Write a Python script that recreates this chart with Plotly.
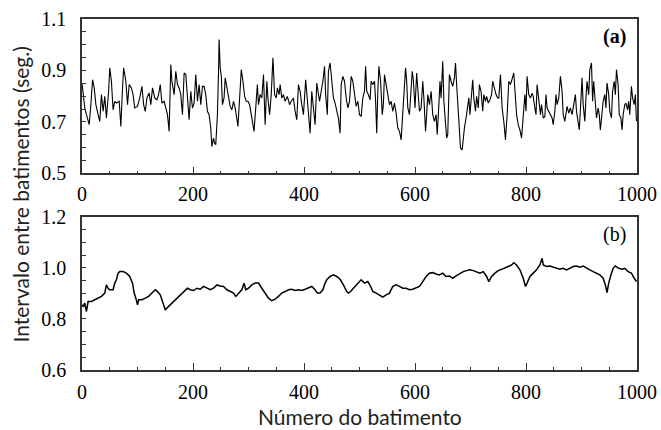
import plotly.graph_objects as go

# ---- Panel (a): beat-to-beat intervals (seconds) ----
beats_a = [0, 2, 5, 8, 13, 16, 19, 22, 25, 29, 32, 35, 38, 41, 44, 48, 50, 53, 56, 59,
           62, 67, 70, 73, 75, 79, 82, 85, 89, 92, 95, 100, 104, 108, 111, 114, 117, 121, 124, 127,
           131, 135, 138, 141, 144, 148, 151, 154, 157, 160, 162, 166, 169, 172, 175, 178, 181, 184, 187, 190,
           193, 196, 199, 202, 205, 208, 211, 214, 217, 220, 223, 226, 229, 232, 234, 237, 239, 241, 244, 246,
           247, 249, 251, 253, 256, 258, 261, 264, 267, 270, 273, 276, 279, 281, 284, 287, 290, 293, 296, 299,
           302, 305, 307, 310, 313, 316, 318, 321, 324, 327, 330, 333, 335, 338, 341, 344, 347, 350, 352, 355,
           357, 360, 363, 366, 370, 374, 377, 381, 384, 387, 390, 393, 396, 399, 403, 406, 409, 411, 414, 417,
           420, 423, 425, 428, 431, 434, 437, 439, 442, 444, 447, 450, 453, 456, 460, 462, 465, 467, 470, 473,
           476, 479, 482, 485, 488, 491, 494, 497, 500, 503, 506, 509, 511, 513, 516, 519, 521, 524, 527, 529,
           531, 533, 535, 538, 541, 543, 545, 548, 551, 554, 557, 560, 563, 566, 569, 572, 575, 578, 580, 583,
           585, 587, 590, 593, 595, 597, 600, 603, 605, 608, 611, 614, 616, 619, 621, 623, 626, 629, 632, 635,
           638, 640, 643, 645, 647, 650, 652, 655, 657, 659, 662, 665, 668, 671, 673, 675, 677, 680, 682, 685,
           687, 689, 692, 694, 697, 699, 702, 704, 706, 709, 711, 714, 716, 719, 722, 724, 727, 729, 732, 735,
           738, 740, 743, 746, 749, 751, 754, 757, 760, 763, 766, 769, 772, 775, 778, 781, 783, 786, 789, 792,
           795, 798, 800, 802, 805, 808, 811, 813, 816, 818, 820, 823, 826, 828, 831, 834, 836, 838, 841, 844,
           847, 849, 852, 854, 856, 859, 862, 865, 867, 870, 872, 874, 877, 880, 883, 886, 889, 891, 894, 896,
           898, 901, 903, 906, 908, 910, 913, 915, 918, 920, 922, 925, 927, 930, 932, 934, 937, 939, 942, 944,
           946, 949, 951, 954, 956, 959, 961, 963, 966, 968, 971, 973, 975, 978, 980, 983, 985, 987, 990, 992,
           995, 997, 999]
rr_a = [0.851, 0.806, 0.754, 0.728, 0.689, 0.767, 0.864, 0.832, 0.767, 0.728, 0.702, 0.806, 0.741, 0.799, 0.715, 0.819, 0.910, 0.858, 0.747, 0.780,
        0.773, 0.780, 0.682, 0.832, 0.910, 0.858, 0.767, 0.845, 0.832, 0.806, 0.754, 0.760, 0.793, 0.838, 0.767, 0.741, 0.793, 0.812, 0.767, 0.832,
        0.793, 0.786, 0.806, 0.845, 0.773, 0.780, 0.754, 0.728, 0.663, 0.923, 0.858, 0.806, 0.897, 0.845, 0.832, 0.806, 0.728, 0.890, 0.884, 0.793,
        0.708, 0.819, 0.754, 0.773, 0.884, 0.780, 0.845, 0.767, 0.838, 0.838, 0.806, 0.741, 0.728, 0.676, 0.604, 0.637, 0.617, 0.611, 0.728, 0.897,
        1.020, 0.910, 0.877, 0.767, 0.793, 0.871, 0.838, 0.793, 0.760, 0.747, 0.780, 0.754, 0.715, 0.682, 0.793, 0.903, 0.858, 0.799, 0.780, 0.780,
        0.767, 0.715, 0.702, 0.663, 0.780, 0.845, 0.767, 0.806, 0.793, 0.884, 0.689, 0.858, 0.793, 0.728, 0.806, 0.949, 0.806, 0.793, 0.832, 0.806,
        0.845, 0.793, 0.806, 0.780, 0.799, 0.767, 0.780, 0.793, 0.741, 0.708, 0.845, 0.819, 0.767, 0.728, 0.864, 0.786, 0.715, 0.656, 0.819, 0.741,
        0.689, 0.851, 0.819, 0.780, 0.819, 0.858, 0.916, 0.806, 0.728, 0.897, 0.929, 0.858, 0.793, 0.773, 0.741, 0.715, 0.656, 0.845, 0.877, 0.858,
        0.793, 0.754, 0.780, 0.877, 0.858, 0.806, 0.760, 0.780, 0.728, 0.721, 0.793, 0.819, 0.916, 0.819, 0.806, 0.786, 0.858, 0.845, 0.858, 0.780,
        0.656, 0.819, 0.916, 0.858, 0.728, 0.767, 0.884, 0.845, 0.799, 0.767, 0.780, 0.741, 0.773, 0.734, 0.676, 0.663, 0.630, 0.741, 0.832, 0.910,
        0.858, 0.754, 0.728, 0.819, 0.897, 0.864, 0.754, 0.890, 0.819, 0.741, 0.754, 0.858, 0.793, 0.663, 0.728, 0.806, 0.767, 0.819, 0.728, 0.702,
        0.728, 0.650, 0.767, 0.858, 0.793, 0.936, 0.780, 0.702, 0.637, 0.650, 0.884, 0.858, 0.838, 0.871, 0.929, 0.845, 0.767, 0.663, 0.598, 0.591,
        0.650, 0.676, 0.715, 0.754, 0.793, 0.728, 0.793, 0.864, 0.793, 0.741, 0.799, 0.754, 0.845, 0.819, 0.741, 0.806, 0.780, 0.799, 0.773, 0.786,
        0.806, 0.858, 0.832, 0.806, 0.793, 0.793, 0.884, 0.754, 0.702, 0.630, 0.728, 0.858, 0.845, 0.871, 0.890, 0.793, 0.728, 0.689, 0.669, 0.637,
        0.728, 0.806, 0.741, 0.877, 0.806, 0.793, 0.812, 0.799, 0.754, 0.728, 0.845, 0.773, 0.728, 0.767, 0.715, 0.721, 0.806, 0.754, 0.741, 0.728,
        0.715, 0.689, 0.741, 0.806, 0.767, 0.793, 0.877, 0.819, 0.728, 0.702, 0.728, 0.760, 0.734, 0.754, 0.728, 0.767, 0.806, 0.741, 0.702, 0.669,
        0.747, 0.871, 0.767, 0.702, 0.793, 0.858, 0.806, 0.903, 0.929, 0.780, 0.858, 0.741, 0.715, 0.754, 0.728, 0.669, 0.728, 0.780, 0.806, 0.754,
        0.851, 0.806, 0.741, 0.715, 0.819, 0.858, 0.806, 0.903, 0.845, 0.728, 0.715, 0.669, 0.728, 0.767, 0.773, 0.747, 0.780, 0.728, 0.838, 0.793,
        0.767, 0.806, 0.702]

# ---- Panel (b): beat-to-beat intervals (seconds) ----
beats_b = [0, 2, 5, 8, 11, 17, 23, 29, 35, 41, 44, 47, 50, 56, 59, 62, 65, 68, 74, 80,
           86, 91, 94, 97, 100, 102, 108, 114, 120, 126, 132, 136, 141, 145, 148, 150, 156, 162, 168, 174,
           180, 186, 190, 195, 201, 207, 213, 219, 225, 231, 237, 243, 249, 255, 261, 267, 273, 277, 282, 288,
           292, 295, 300, 306, 312, 318, 324, 330, 336, 342, 348, 354, 360, 366, 372, 378, 384, 390, 396, 402,
           408, 414, 420, 424, 429, 434, 438, 441, 447, 453, 459, 465, 471, 477, 480, 484, 489, 495, 501, 503,
           509, 515, 520, 524, 530, 536, 542, 548, 554, 560, 566, 572, 578, 584, 590, 596, 602, 608, 614, 620,
           626, 632, 638, 644, 650, 656, 662, 668, 674, 681, 687, 693, 699, 705, 711, 717, 723, 729, 733, 738,
           744, 750, 756, 762, 768, 774, 778, 783, 789, 795, 799, 802, 807, 813, 819, 825, 829, 831, 837, 843,
           849, 855, 861, 867, 873, 879, 885, 891, 897, 903, 909, 915, 921, 927, 933, 939, 943, 946, 949, 953,
           957, 961, 967, 973, 978, 984, 990, 995, 999]
rr_b = [0.855, 0.849, 0.862, 0.829, 0.868, 0.868, 0.875, 0.881, 0.888, 0.901, 0.933, 0.920, 0.914, 0.914, 0.940, 0.953, 0.979, 0.985, 0.985, 0.979,
        0.966, 0.940, 0.901, 0.881, 0.855, 0.875, 0.875, 0.881, 0.888, 0.901, 0.914, 0.907, 0.894, 0.868, 0.849, 0.836, 0.849, 0.862, 0.875, 0.888,
        0.901, 0.914, 0.920, 0.914, 0.911, 0.920, 0.916, 0.927, 0.920, 0.914, 0.920, 0.933, 0.929, 0.927, 0.914, 0.907, 0.901, 0.888, 0.901, 0.914,
        0.940, 0.914, 0.920, 0.933, 0.940, 0.940, 0.920, 0.901, 0.881, 0.871, 0.877, 0.888, 0.901, 0.907, 0.914, 0.916, 0.911, 0.914, 0.911, 0.916,
        0.920, 0.927, 0.914, 0.901, 0.901, 0.914, 0.940, 0.953, 0.966, 0.972, 0.966, 0.955, 0.933, 0.907, 0.901, 0.907, 0.920, 0.933, 0.946, 0.953,
        0.940, 0.946, 0.927, 0.907, 0.901, 0.894, 0.885, 0.894, 0.901, 0.927, 0.933, 0.927, 0.920, 0.920, 0.914, 0.916, 0.920, 0.927, 0.946, 0.966,
        0.979, 0.981, 0.976, 0.972, 0.979, 0.966, 0.968, 0.959, 0.968, 0.979, 0.985, 0.989, 0.992, 0.989, 0.985, 0.979, 0.985, 0.966, 0.946, 0.966,
        0.979, 0.989, 0.994, 0.998, 1.005, 1.011, 1.020, 1.011, 0.992, 0.959, 0.927, 0.940, 0.966, 0.979, 0.992, 1.011, 1.037, 1.011, 1.005, 1.007,
        1.002, 0.998, 0.994, 0.998, 0.992, 0.998, 1.005, 1.007, 1.002, 1.007, 0.998, 0.992, 0.985, 0.979, 0.972, 0.959, 0.933, 0.903, 0.940, 0.972,
        0.998, 1.007, 0.998, 0.994, 0.998, 0.985, 0.979, 0.959, 0.946]

# ---- Axis ticks ----
x_tickvals = [0, 200, 400, 600, 800, 1000]
x_ticktext = ["0", "200", "400", "600", "800", "1000"]
ya_tickvals = [0.5, 0.7, 0.9, 1.1]
ya_ticktext = ["0.5", "0.7", "0.9", "1.1"]
yb_tickvals = [0.6, 0.8, 1.0, 1.2]
yb_ticktext = ["0.6", "0.8", "1.0", "1.2"]

x_title = "Número do batimento"
y_title = "Intervalo entre batimentos (seg.)"
panel_labels = ["(a)", "(b)"]

LINE = "#000000"
AXIS = "#333333"
serif = dict(family="Liberation Serif, Times New Roman, serif", size=20, color="#000")
sans = dict(family="Lato, Open Sans, sans-serif", size=21, color="#222")

fig = go.Figure()
fig.add_trace(go.Scatter(x=beats_a, y=rr_a, mode="lines", line=dict(color=LINE, width=1.1),
                         xaxis="x", yaxis="y", showlegend=False, hoverinfo="skip"))
fig.add_trace(go.Scatter(x=beats_b, y=rr_b, mode="lines", line=dict(color=LINE, width=1.5),
                         xaxis="x2", yaxis="y2", showlegend=False, hoverinfo="skip"))

def xax(anchor, standoff):
    return dict(range=[0, 1000], anchor=anchor, tickvals=x_tickvals, ticktext=x_ticktext,
                ticks="inside", ticklen=7, tickwidth=1.2, tickcolor=AXIS,
                minor=dict(dtick=50, tick0=0, ticks="inside", ticklen=3, tickwidth=1, tickcolor=AXIS, showgrid=False),
                showline=True, linecolor=AXIS, linewidth=1.5, mirror=True, automargin=False,
                ticklabelstandoff=standoff,
                showgrid=False, zeroline=False, tickfont=serif, fixedrange=True)

def yax(anchor, rng, tv, tt, dom):
    return dict(range=rng, anchor=anchor, domain=dom, tickvals=tv, ticktext=tt,
                ticks="inside", ticklen=4, tickwidth=1, tickcolor=AXIS,
                minor=dict(dtick=0.05, tick0=0.5, ticks="inside", ticklen=4, tickwidth=1, tickcolor=AXIS, showgrid=False),
                showline=True, linecolor=AXIS, linewidth=1.5, mirror=True, automargin=False,
                ticklabelstandoff=10,
                showgrid=False, zeroline=False, tickfont=serif, fixedrange=True)

fig.update_layout(
    width=661, height=430,
    margin=dict(l=82, r=24, t=19, b=60, autoexpand=False),
    paper_bgcolor="white", plot_bgcolor="white",
    xaxis=xax("y", 2),
    yaxis=yax("x", [0.5, 1.1], ya_tickvals, ya_ticktext, [0.5604, 1.0]),
    xaxis2=xax("y2", 3),
    yaxis2=yax("x2", [0.6, 1.2], yb_tickvals, yb_ticktext, [0.0, 0.4368]),
    annotations=[
        dict(text="<b>" + panel_labels[0] + "</b>", xref="x", yref="y", x=984, y=1.031,
             xanchor="right", yanchor="middle", showarrow=False, font=serif),
        dict(text=panel_labels[1], xref="x2", yref="y2", x=984, y=1.129,
             xanchor="right", yanchor="middle", showarrow=False, font=serif),
        dict(text=x_title, xref="paper", yref="paper", x=0.5, y=0, yshift=-46,
             xanchor="center", yanchor="middle", showarrow=False, font=sans),
        dict(text=y_title, xref="paper", yref="paper", x=0, xshift=-62, y=0.5,
             xanchor="center", yanchor="middle", textangle=-90, showarrow=False, font=sans),
    ],
)

fig.write_html("out.html", config={"displayModeBar": False},
               post_script="document.body.style.margin='0';document.body.style.overflow='hidden';")
